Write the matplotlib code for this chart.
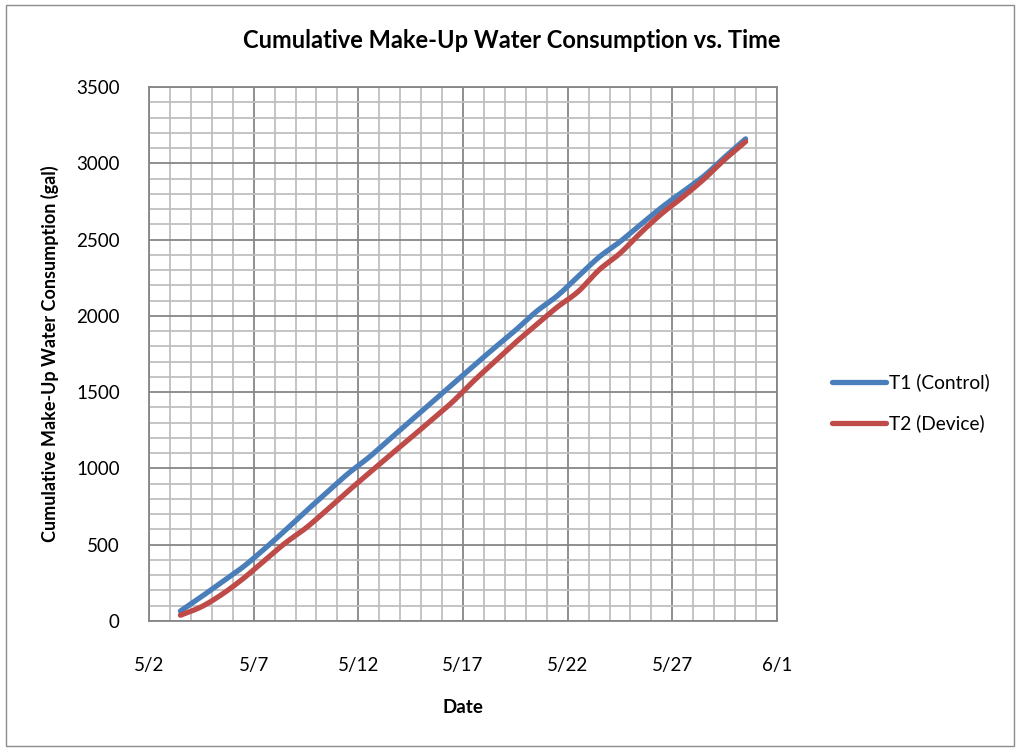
import numpy as np
import matplotlib
matplotlib.use("Agg")
import matplotlib.pyplot as plt
import matplotlib.dates as mdates
from matplotlib.ticker import MultipleLocator
from matplotlib.lines import Line2D
from matplotlib.patches import Rectangle
import datetime as dt

# ---- data ----
dates = [dt.datetime(2013, 5, 3, 12) + dt.timedelta(days=i) for i in range(28)]
t1_control = [65, 159, 257, 355, 471, 593, 720, 843, 965, 1072, 1192, 1312, 1432, 1552,
              1672, 1790, 1905, 2028, 2131, 2258, 2385, 2486, 2600, 2712, 2814, 2915, 3040, 3160]
t2_device = [38, 93, 176, 278, 394, 510, 610, 728, 850, 968, 1085, 1200, 1318, 1436,
             1572, 1698, 1824, 1941, 2057, 2159, 2301, 2410, 2546, 2671, 2779, 2895, 3025, 3142]
series_names = ["T1 (Control)", "T2 (Device)"]
x_ticks = ["5/2", "5/7", "5/12", "5/17", "5/22", "5/27", "6/1"]

plt.rcParams['font.family'] = ['Lato', 'DejaVu Sans']

def smooth(x, y, n=12):
    """Catmull-Rom curve through the points (like Excel's smoothed line)."""
    x = np.asarray(x, float); y = np.asarray(y, float)
    px = np.concatenate([[2*x[0]-x[1]], x, [2*x[-1]-x[-2]]])
    py = np.concatenate([[2*y[0]-y[1]], y, [2*y[-1]-y[-2]]])
    xs, ys = [], []
    t = np.linspace(0, 1, n, endpoint=False)
    for i in range(1, len(px)-2):
        for arr, out in ((px, xs), (py, ys)):
            p0, p1, p2, p3 = arr[i-1], arr[i], arr[i+1], arr[i+2]
            out.extend(0.5*((2*p1) + (-p0+p2)*t + (2*p0-5*p1+4*p2-p3)*t**2 + (-p0+3*p1-3*p2+p3)*t**3))
    xs.append(x[-1]); ys.append(y[-1])
    return np.array(xs), np.array(ys)

fig = plt.figure(figsize=(10.2, 7.5), dpi=100)
fig.patch.set_facecolor('white')
fig.add_artist(Rectangle((0.006, 0.006), 0.988, 0.988, transform=fig.transFigure,
                         fill=False, edgecolor='#8c8c8c', linewidth=1.0))

ax = fig.add_axes([149/1020, 1-621/750, (777-149)/1020, (621-87)/750])

xn = mdates.date2num(dates)
colors = ['#4a7ebb', '#be4b48']
for vals, c, name in zip([t1_control, t2_device], colors, series_names):
    sx, sy = smooth(xn, vals)
    ax.plot(sx, sy, color=c, linewidth=3.8, solid_capstyle='round', label=name, zorder=3)

x0 = mdates.date2num(dt.datetime(2013, 5, 2))
x1 = mdates.date2num(dt.datetime(2013, 6, 1))
ax.set_xlim(x0, x1)
ax.set_ylim(0, 3500)
ax.set_xticks([x0 + 5*i for i in range(len(x_ticks))])
ax.set_xticklabels(x_ticks)
ax.set_xticks(np.arange(x0, x1 + 0.5, 1), minor=True)
ax.yaxis.set_major_locator(MultipleLocator(500))
ax.yaxis.set_minor_locator(MultipleLocator(100))

ax.grid(which='minor', color='#bfbfbf', linewidth=1.3, zorder=0)
ax.grid(which='major', color='#868686', linewidth=1.3, zorder=1)
ax.set_axisbelow(True)
for s in ax.spines.values():
    s.set_color('#868686'); s.set_linewidth(1.3)

ax.tick_params(axis='both', which='both', length=0, labelsize=13.5, colors='black')
ax.tick_params(axis='x', pad=26)
ax.tick_params(axis='y', pad=21)

ax.set_xlabel('Date', fontsize=13.5, fontweight='bold', labelpad=18)
ax.set_ylabel('Cumulative Make-Up Water Consumption (gal)', fontsize=13, fontweight='bold', labelpad=12)
fig.text(512/1020, 1-41/750, 'Cumulative Make-Up Water Consumption vs. Time',
         ha='center', va='center', fontsize=17, fontweight='bold')

handles = [Line2D([0], [0], color=c, linewidth=3.8, solid_capstyle='round') for c in colors]
fig.legend(handles, series_names, loc='center left', bbox_to_anchor=(815/1020, 1-403/750),
           frameon=False, fontsize=13.8, handlelength=2.8, handletextpad=0.15, labelspacing=1.2)

fig.savefig('out.png', dpi=100)
